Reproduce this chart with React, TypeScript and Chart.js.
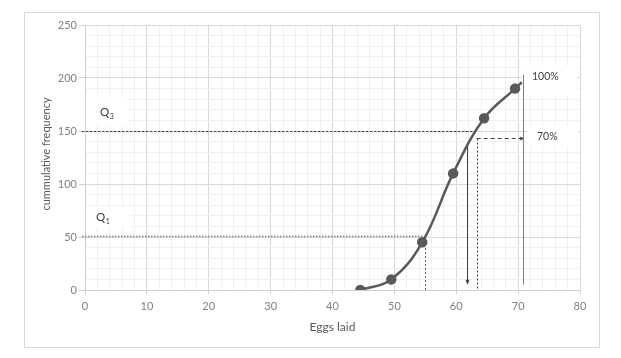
import React, { useEffect, useRef } from "react";
import { Chart, registerables } from "chart.js";

Chart.register(...registerables);

// Cumulative frequency data (upper class boundaries)
const eggsLaid = [44.5, 49.5, 54.5, 59.5, 64.5, 69.5];
const cumFreq = [0, 10, 45, 110, 162, 190];
// short continuation of the smoothed curve past the last point (no marker)
const curveEndX = 70.6;
const curveEndY = 196;

const xTitle = "Eggs laid";
const yTitle = "cummulative frequency";

// annotation values
const q1Value = 51;
const q1X = 55;
const q3Value = 150;
const q3X = 63;
const p70Value = 143;
const p70X = 63.3;
const arrowX = 61.75;
const arrowTop = 137;
const arrowBottom = 5;
const fullX = 70.75;
const fullTop = 203;
const fullBottom = 5;
const p70End = 71;

const FONT = "Lato, 'Open Sans', sans-serif";

const annotationPlugin = {
  id: "annotations",
  beforeDraw(chart: any) {
    const ctx = chart.ctx;
    ctx.save();
    ctx.fillStyle = "#ffffff";
    ctx.fillRect(0, 0, chart.width, chart.height);
    ctx.strokeStyle = "#d9d9d9";
    ctx.lineWidth = 1;
    ctx.strokeRect(24.5, 12.5, 575, 335);
    ctx.restore();
  },
  beforeDatasetsDraw(chart: any) {
    const ctx = chart.ctx;
    const xs = chart.scales.x;
    const ys = chart.scales.y;
    const X = (v: number) => xs.getPixelForValue(v);
    const Y = (v: number) => ys.getPixelForValue(v);
    ctx.save();

    // white label boxes
    ctx.fillStyle = "#ffffff";
    ctx.fillRect(X(0) + 1, 98, 42, 27);
    ctx.fillRect(X(0) + 1, 206, 45, 21);
    ctx.fillRect(521, 66, 56, 30);
    ctx.fillRect(527, 127, 51, 19);

    const line = (x1: number, y1: number, x2: number, y2: number, color: string, w: number, dash: number[]) => {
      ctx.beginPath();
      ctx.strokeStyle = color;
      ctx.lineWidth = w;
      ctx.setLineDash(dash);
      ctx.moveTo(x1, y1);
      ctx.lineTo(x2, y2);
      ctx.stroke();
    };

    // Q1 dotted
    line(X(0) - 3, Math.round(Y(q1Value)) + 0.5, X(q1X), Math.round(Y(q1Value)) + 0.5, "#7f7f7f", 1.5, [1.5, 1.5]);
    line(Math.round(X(q1X)) + 0.5, Y(q1Value), Math.round(X(q1X)) + 0.5, Y(0), "#595959", 1, [2, 2]);

    // Q3 dashed
    line(X(0) - 3, Math.round(Y(q3Value)) + 0.5, X(q3X), Math.round(Y(q3Value)) + 0.5, "#404040", 1, [2.5, 1.5]);

    // 70% dashed horizontal + vertical
    const yy = Math.round(Y(p70Value)) + 0.5;
    line(X(p70X), yy, X(p70End) - 3, yy, "#404040", 1, [4, 3]);
    line(Math.round(X(p70X)) + 0.5, yy, Math.round(X(p70X)) + 0.5, Y(0), "#404040", 1, [2, 2]);
    // arrow head right
    ctx.setLineDash([]);
    ctx.fillStyle = "#404040";
    ctx.beginPath();
    ctx.moveTo(X(p70End), yy);
    ctx.lineTo(X(p70End) - 4, yy - 2);
    ctx.lineTo(X(p70End) - 4, yy + 2);
    ctx.closePath();
    ctx.fill();

    // solid arrow down
    const ax = Math.round(X(arrowX)) + 0.5;
    line(ax, Y(arrowTop), ax, Y(arrowBottom) - 3, "#404040", 1, []);
    ctx.beginPath();
    ctx.moveTo(ax, Y(arrowBottom));
    ctx.lineTo(ax - 2, Y(arrowBottom) - 5);
    ctx.lineTo(ax + 2, Y(arrowBottom) - 5);
    ctx.closePath();
    ctx.fill();

    // 100% vertical
    const fx = Math.round(X(fullX)) + 0.5;
    line(fx, Y(fullTop), fx, Y(fullBottom), "#808080", 1, []);

    // labels
    ctx.fillStyle = "#404040";
    ctx.textBaseline = "middle";
    ctx.textAlign = "left";
    ctx.font = `10.5px ${FONT}`;
    ctx.fillText("100%", 532, 77);
    ctx.fillText("70%", 537, 137);
    ctx.font = `11.5px ${FONT}`;
    const qw = ctx.measureText("Q").width;
    ctx.fillText("Q", 100, 112);
    ctx.fillText("Q", 96, 217);
    ctx.font = `7px ${FONT}`;
    ctx.fillText("3", 100 + qw + 0.5, 117);
    ctx.fillText("1", 96 + qw + 0.5, 222);

    // y title
    ctx.save();
    ctx.translate(46, 154);
    ctx.rotate(-Math.PI / 2);
    ctx.textAlign = "center";
    ctx.textBaseline = "middle";
    ctx.fillStyle = "#595959";
    ctx.font = `11px ${FONT}`;
    ctx.fillText(yTitle, 0, 0);
    ctx.restore();

    ctx.restore();
  },
};

export default function App() {
  const ref = useRef<HTMLCanvasElement | null>(null);
  useEffect(() => {
    if (!ref.current) return;
    const points = eggsLaid.map((x, i) => ({ x, y: cumFreq[i] }));
    points.push({ x: curveEndX, y: curveEndY });
    const radii = eggsLaid.map(() => 4).concat([0]);
    const isMajor = (v: number, step: number) => Math.abs(Math.round(v) % step) === 0;
    const chart = new Chart(ref.current, {
      type: "line",
      data: {
        datasets: [
          {
            data: points,
            borderColor: "#595959",
            backgroundColor: "#595959",
            borderWidth: 2.5,
            pointRadius: radii,
            pointBackgroundColor: "#595959",
            pointBorderColor: "#595959",
            tension: 0.4,
            fill: false,
          },
        ],
      },
      options: {
        animation: false,
        responsive: false,
        maintainAspectRatio: false,
        layout: { padding: { left: 0, top: 25, right: 41, bottom: 0 } },
        plugins: { legend: { display: false }, tooltip: { enabled: false } },
        scales: {
          x: {
            type: "linear",
            min: 0,
            max: 80,
            afterFit: (s: any) => {
              s.height = 68;
            },
            ticks: {
              stepSize: 2,
              autoSkip: false,
              maxRotation: 0,
              padding: 6,
              color: "#808080",
              font: { family: FONT, size: 11 },
              callback: (v: any) => (isMajor(Number(v), 10) ? String(v) : ""),
            },
            grid: {
              color: (c: any) => (c.tick && isMajor(c.tick.value, 10) ? "#d9d9d9" : "#f0f0f0"),
              tickColor: (c: any) => (c.tick && isMajor(c.tick.value, 10) ? "#d0d0d0" : "rgba(0,0,0,0)"),
              tickLength: 4,
            },
            border: { color: "#d0d0d0", width: 1 },
            title: {
              display: true,
              text: xTitle,
              color: "#595959",
              font: { family: FONT, size: 12 },
              padding: { top: 0, bottom: 24 },
            },
          },
          y: {
            type: "linear",
            min: 0,
            max: 250,
            afterFit: (s: any) => {
              s.width = 85;
            },
            ticks: {
              stepSize: 10,
              autoSkip: false,
              padding: 2,
              color: "#808080",
              font: { family: FONT, size: 11 },
              callback: (v: any) => (isMajor(Number(v), 50) ? String(v) : ""),
            },
            grid: {
              color: (c: any) => (c.tick && isMajor(c.tick.value, 50) ? "#d9d9d9" : "#f0f0f0"),
              tickColor: (c: any) => (c.tick && isMajor(c.tick.value, 50) ? "#d0d0d0" : "rgba(0,0,0,0)"),
              tickLength: 6,
            },
            border: { color: "#d0d0d0", width: 1 },
          },
        },
      },
      plugins: [annotationPlugin],
    });
    return () => chart.destroy();
  }, []);
  return (
    <div style={{ position: "fixed", left: 0, top: 0, width: 621, height: 358, background: "#fff" }}>
      <canvas ref={ref} width={621} height={358} style={{ width: 621, height: 358 }} />
    </div>
  );
}
